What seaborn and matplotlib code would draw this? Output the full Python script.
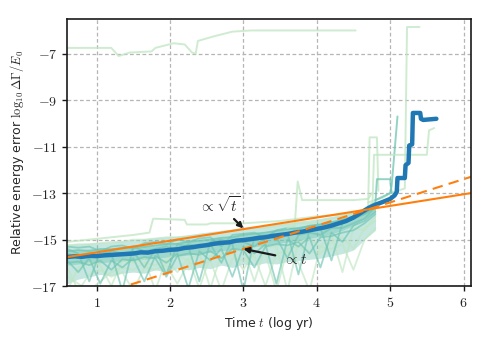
import numpy as np
import matplotlib
matplotlib.use("Agg")
import matplotlib.pyplot as plt
import seaborn as sns

# ---------------- DATA ----------------
xtick_vals = [1, 2, 3, 4, 5, 6]
ytick_vals = [-17, -15, -13, -11, -9, -7]

# common time grid of the ensemble runs (log yr)
t_grid = [0.6, 0.75, 0.9, 1.05, 1.2, 1.35, 1.5, 1.65, 1.8, 1.95, 2.1, 2.25, 2.4,
          2.55, 2.7, 2.85, 3.0, 3.15, 3.3, 3.45, 3.6, 3.75, 3.9, 4.05, 4.2, 4.35,
          4.5, 4.65, 4.8]

band_upper = [-15.2, -15.18, -15.15, -15.12, -15.1, -15.05, -15.0, -14.97, -14.92,
              -14.88, -14.85, -14.8, -14.72, -14.66, -14.6, -14.55, -14.48, -14.42,
              -14.38, -14.32, -14.26, -14.2, -14.15, -14.08, -14.0, -13.92, -13.8,
              -13.6, -13.4]
band_lower = [-16.9, -16.7, -16.6, -16.5, -16.55, -16.45, -16.4, -16.45, -16.3, -16.4,
              -16.25, -16.3, -16.2, -16.25, -16.1, -16.2, -16.05, -16.1, -16.0, -16.05,
              -15.95, -15.9, -15.85, -15.8, -15.7, -15.6, -15.45, -15.0, -14.6]
core_upper = [-15.45, -15.42, -15.4, -15.38, -15.35, -15.32, -15.28, -15.24, -15.2,
              -15.16, -15.12, -15.06, -15.0, -14.94, -14.88, -14.82, -14.76, -14.7,
              -14.65, -14.58, -14.52, -14.45, -14.38, -14.3, -14.2, -14.08, -13.92,
              -13.68, -13.45]
core_lower = [-16.1, -16.05, -16.0, -16.0, -15.95, -15.92, -15.9, -15.85, -15.8,
              -15.76, -15.72, -15.66, -15.6, -15.54, -15.48, -15.42, -15.36, -15.3,
              -15.25, -15.18, -15.1, -15.03, -14.95, -14.86, -14.75, -14.6, -14.4,
              -14.1, -13.8]

run_a = [-15.9, -16.4, -15.8, -16.9, -15.9, -16.2, -15.8, -16.8, -15.7, -16.0, -15.6,
         -17.1, -15.5, -15.9, -15.4, -16.6, -15.3, -15.6, -15.2, -16.9, -15.0, -15.3,
         -14.9, -16.2, -14.7, -15.1, -14.4, -14.2, -13.8]
run_b = [-15.4, -15.6, -16.8, -15.5, -15.6, -17.2, -15.3, -15.5, -15.4, -16.5, -15.2,
         -15.3, -16.8, -15.1, -15.0, -15.2, -17.2, -14.9, -14.8, -15.0, -14.7, -16.5,
         -14.6, -14.5, -15.9, -14.3, -14.1, -13.9, -13.6]
run_c = [-17.2, -16.2, -16.0, -16.1, -17.0, -15.9, -16.0, -15.8, -17.2, -15.8, -15.7,
         -15.9, -15.6, -17.1, -15.6, -15.5, -15.4, -16.8, -15.3, -15.3, -17.2, -15.1,
         -15.0, -15.3, -14.8, -16.4, -14.5, -14.6, -14.0]
run_d = [-15.25, -15.2, -15.2, -15.15, -15.1, -15.1, -15.0, -15.0, -14.95, -14.9, -14.9,
         -14.85, -14.8, -14.75, -14.7, -14.6, -14.55, -14.5, -14.5, -14.4, -14.35, -14.3,
         -14.3, -14.2, -14.1, -14.0, -13.9, -13.7, -13.5]
run_e = [-16.2, -17.2, -16.5, -16.3, -16.6, -16.4, -17.2, -16.2, -16.3, -16.1, -16.9,
         -16.0, -16.1, -15.9, -17.2, -15.8, -15.9, -15.7, -17.0, -15.6, -15.5, -16.0,
         -17.2, -15.3, -15.4, -15.2, -16.3, -15.0, -14.5]
run_f = [-15.6, -15.8, -15.6, -15.7, -15.5, -15.6, -15.5, -16.2, -15.4, -15.3, -15.5,
         -15.2, -15.3, -15.2, -16.0, -15.0, -15.1, -15.3, -14.9, -14.9, -15.8, -14.8,
         -14.7, -14.8, -14.5, -14.5, -14.3, -14.1, -13.6]
run_g = [-15.5, -15.45, -15.5, -15.4, -15.42, -15.35, -15.3, -15.32, -15.25, -15.2,
         -15.18, -15.1, -15.05, -15.0, -14.92, -14.9, -14.8, -14.75, -14.7, -14.62,
         -14.55, -14.5, -14.42, -14.35, -14.25, -14.15, -14.0, -13.8, -13.55]
run_h = [-16.0, -15.95, -16.1, -15.9, -16.3, -15.85, -15.9, -15.75, -15.8, -16.6, -15.7,
         -15.6, -15.65, -15.5, -15.8, -15.4, -15.45, -16.2, -15.3, -15.2, -15.25, -15.1,
         -15.6, -14.9, -14.85, -14.7, -14.6, -14.3, -13.9]
run_i = [-16.6, -16.9, -17.2, -16.8, -16.4, -16.2, -16.3, -16.0, -16.1, -15.9, -16.4,
         -15.8, -17.1, -15.7, -15.8, -15.6, -16.3, -15.5, -15.6, -17.2, -15.4, -15.3,
         -15.5, -15.6, -15.1, -14.9, -15.4, -14.5, -14.2]
run_j = [-15.3, -15.35, -15.3, -15.5, -15.3, -15.25, -15.4, -15.15, -15.1, -15.2, -15.0,
         -15.1, -14.95, -14.9, -15.3, -14.8, -14.75, -14.7, -14.9, -14.6, -14.5, -14.55,
         -14.4, -14.35, -14.3, -14.2, -14.1, -13.9, -13.6]

# runs that drift away from the bulk
top_t = [0.6, 1.2, 1.3, 1.45, 1.75, 1.8, 2.05, 2.2, 2.3, 2.35, 2.38, 2.6, 2.85, 3.1, 4.53]
top_err = [-6.75, -6.75, -7.1, -6.95, -6.9, -6.75, -6.55, -6.6, -6.95, -7.0, -6.45,
           -6.25, -6.05, -6.0, -6.0]
bump_t = [0.6, 1.5, 1.72, 1.77, 2.2, 2.23, 2.5, 2.55, 3.0, 3.5, 4.0, 4.5]
bump_err = [-15.1, -14.8, -14.7, -14.1, -14.15, -14.35, -14.35, -14.3, -14.3, -14.2,
            -14.0, -13.9]
spike_t = [4.7, 4.9, 5.0, 5.1, 5.2, 5.23, 5.4]
spike_err = [-13.4, -13.2, -13.0, -12.9, -12.8, -5.85, -5.85]
jump_t = [4.8, 5.0, 5.02, 5.1]
jump_err = [-13.3, -13.0, -12.7, -9.7]
shelf_t = [4.7, 4.76, 4.78, 5.5, 5.53, 5.6]
shelf_err = [-13.6, -13.4, -11.35, -11.35, -10.3, -10.2]
hook_t = [4.6, 4.7, 4.72, 4.82, 4.84]
hook_err = [-13.8, -13.6, -10.6, -10.6, -12.9]
step_t = [3.6, 3.7, 3.74, 3.8, 4.5, 4.7, 4.75]
step_err = [-14.5, -14.4, -12.5, -13.3, -13.3, -13.25, -13.0]
ledge_t = [4.7, 4.8, 4.82, 5.0, 5.02]
ledge_err = [-13.6, -13.4, -12.4, -12.4, -13.0]

# median run
median_t = [0.6, 0.7, 0.8, 0.9, 1.0, 1.1, 1.2, 1.3, 1.4, 1.5, 1.6, 1.7, 1.8, 1.9, 2.0,
            2.1, 2.2, 2.3, 2.4, 2.5, 2.6, 2.7, 2.8, 2.9, 3.0, 3.1, 3.2, 3.3, 3.4, 3.5,
            3.6, 3.7, 3.8, 3.9, 4.0, 4.1, 4.2, 4.3, 4.4, 4.5, 4.6, 4.7, 4.8, 4.9, 5.0,
            5.06, 5.09, 5.1, 5.2, 5.21, 5.25, 5.26, 5.3, 5.31, 5.41, 5.42, 5.45, 5.63]
median_err = [-15.75, -15.72, -15.74, -15.70, -15.71, -15.68, -15.66, -15.64, -15.62,
              -15.60, -15.55, -15.56, -15.50, -15.48, -15.44, -15.42, -15.36, -15.33,
              -15.28, -15.24, -15.18, -15.14, -15.12, -15.05, -15.02, -14.98, -14.93,
              -14.90, -14.84, -14.80, -14.76, -14.70, -14.66, -14.60, -14.54, -14.48,
              -14.40, -14.30, -14.20, -14.05, -13.85, -13.65, -13.50, -13.38, -13.25,
              -13.10, -12.95, -12.35, -12.35, -11.80, -11.70, -10.95, -10.90, -9.55,
              -9.55, -9.80, -9.85, -9.80]

# reference slopes: sqrt(t) and t
fit_t = [0.6, 6.1]
sqrt_fit = [-15.75, -13.0]
lin_fit = [-17.8, -12.3]

# ---------------- PLOT ----------------
sns.set_theme(style="ticks")
plt.rcParams["font.family"] = ["DejaVu Sans"]
plt.rcParams["mathtext.fontset"] = "cm"

teal = "#6fc4b3"
pale = "#bfe6c2"

fig, ax = plt.subplots(figsize=(4.91, 3.43), dpi=100)
fig.subplots_adjust(left=0.137, right=0.959, bottom=0.166, top=0.945)

ax.fill_between(t_grid, band_lower, band_upper, color=teal, alpha=0.4, lw=0)
ax.fill_between(t_grid, core_lower, core_upper, color=teal, alpha=0.45, lw=0)

for vals, c in [(run_e, pale), (run_i, pale), (run_c, pale), (run_a, teal),
                (run_b, teal), (run_h, teal), (run_f, teal), (run_j, teal),
                (run_g, teal), (run_d, pale)]:
    sns.lineplot(x=t_grid, y=vals, color=c, lw=1.3, alpha=0.65, ax=ax,
                 estimator=None, sort=False)

for tt, ee, c in [(top_t, top_err, pale), (bump_t, bump_err, pale),
                  (spike_t, spike_err, pale), (jump_t, jump_err, teal),
                  (shelf_t, shelf_err, pale), (hook_t, hook_err, pale),
                  (step_t, step_err, pale), (ledge_t, ledge_err, teal)]:
    sns.lineplot(x=tt, y=ee, color=c, lw=1.4, alpha=0.75, ax=ax,
                 estimator=None, sort=False)

sns.lineplot(x=median_t, y=median_err, color="#1f77b4", lw=3.2, ax=ax,
             estimator=None, sort=False)
sns.lineplot(x=fit_t, y=sqrt_fit, color="#ff7f0e", lw=1.5, ax=ax,
             estimator=None, sort=False)
sns.lineplot(x=fit_t, y=lin_fit, color="#ff7f0e", lw=1.5, ls=(0, (5, 3)), ax=ax,
             estimator=None, sort=False)

ax.annotate(r"$\propto\sqrt{t}$", xy=(3.0, -14.52), xytext=(2.68, -13.5),
            fontsize=11, ha="center", va="center",
            arrowprops=dict(arrowstyle="-|>", color="k", lw=1.6, mutation_scale=8,
                            shrinkA=1, shrinkB=0))
ax.annotate(r"$\propto t$", xy=(3.0, -15.4), xytext=(3.7, -15.85),
            fontsize=11, ha="center", va="center",
            arrowprops=dict(arrowstyle="-|>", color="k", lw=1.6, mutation_scale=8,
                            shrinkA=3, shrinkB=0))

ax.set_xlim(0.6, 6.1)
ax.set_ylim(-17, -5.5)
ax.set_xticks(xtick_vals)
ax.set_xticklabels([f"${v}$" for v in xtick_vals], fontsize=10)
ax.set_yticks(ytick_vals)
ax.set_yticklabels([f"${v}$" for v in ytick_vals], fontsize=10)
ax.tick_params(length=3.5, width=1, color="k")
ax.grid(True, ls=(0, (3, 2)), color="#b5b5b5", lw=0.9)
for s in ax.spines.values():
    s.set_color("k")
    s.set_linewidth(1.2)

ax.set_xlabel(r"Time $t$ (log yr)", fontsize=9)
ax.set_ylabel(r"Relative energy error $\log_{10}\Delta\Gamma/E_0$", fontsize=9)

plt.savefig("out.png", dpi=100)
